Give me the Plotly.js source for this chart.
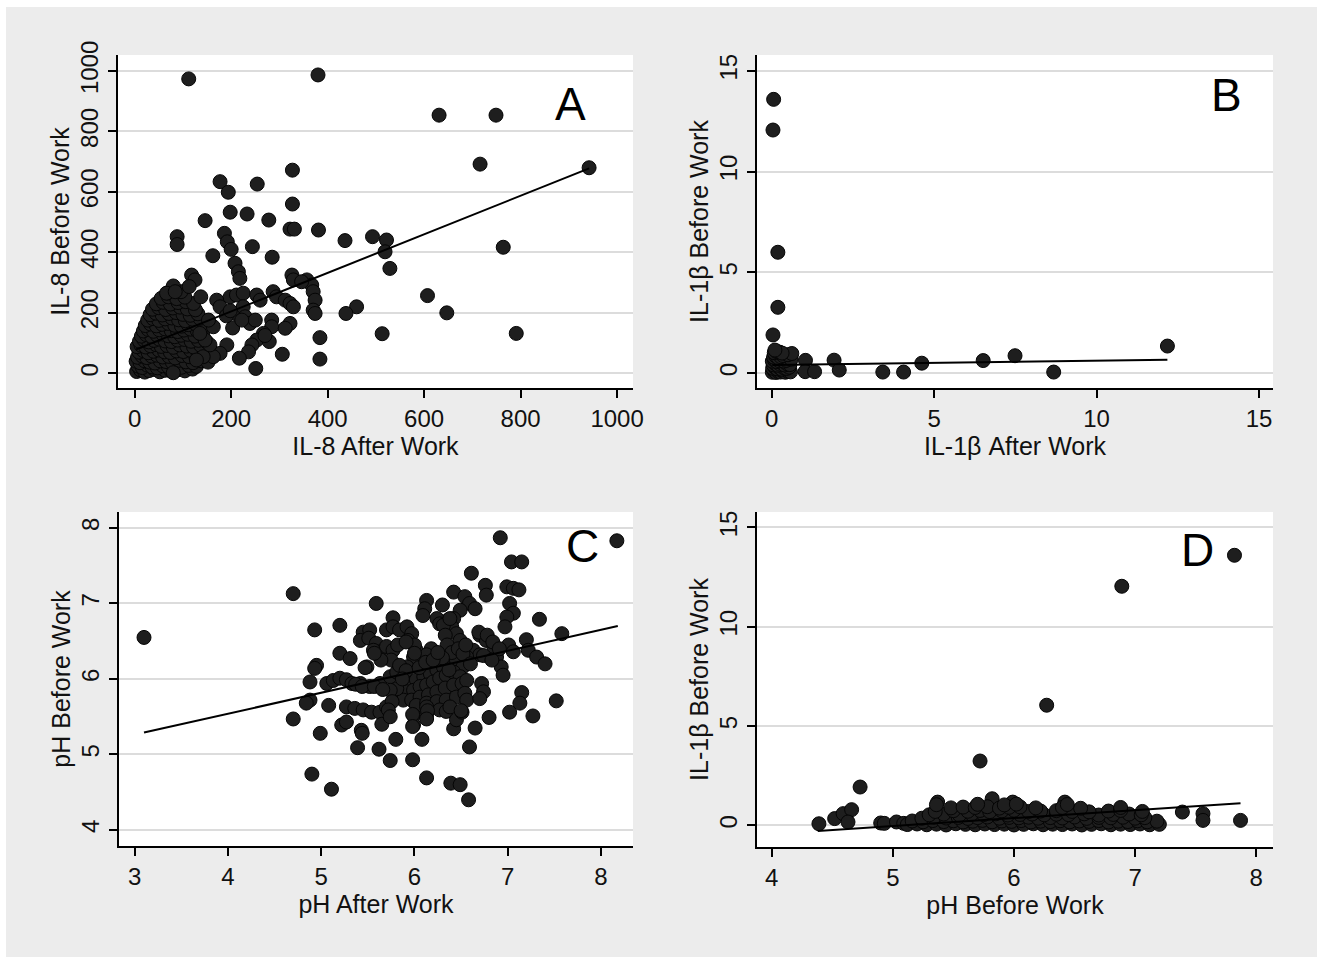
<!DOCTYPE html>
<html>
<head>
<meta charset="utf-8">
<script src="https://cdn.plot.ly/plotly-3.0.1.min.js"></script>
<style>
html,body{margin:0;padding:0;background:#ffffff;width:1317px;height:957px;overflow:hidden;}
#chart{position:absolute;left:6px;top:7px;width:1311px;height:950px;}
</style>
</head>
<body>
<div id="chart"></div>
<script>
// ---------- DATA ----------
// Panel A: IL-8 After Work (x) vs IL-8 Before Work (y)
const aScatter = [[112,974],[380,987],[631,854],[749,854],[716,692],[942,680],[764,417],[791,132],[607,257],[647,200],
[513,131],[522,441],[519,402],[529,347],[493,452],[436,439],[460,220],[438,198],[381,474],[384,118],[384,47],[327,672],
[327,560],[322,477],[331,477],[254,626],[177,634],[194,599],[198,533],[233,527],[278,507],[146,505],[88,452],[88,426],
[186,463],[192,435],[200,410],[244,419],[162,389],[285,384],[208,364],[215,336],[218,314],[118,325],[125,309],[113,287],
[80,289],[137,253],[170,242],[177,220],[198,253],[211,259],[225,265],[208,198],[225,220],[229,187],[239,165],[250,176],
[253,259],[260,242],[287,270],[294,253],[312,242],[322,231],[329,220],[326,325],[329,309],[357,309],[367,292],[370,270],
[374,242],[370,209],[374,198],[346,303],[284,176],[284,154],[267,132],[253,110],[243,94],[236,71],[322,165],[312,149],
[306,63],[251,16],[217,50],[191,94],[177,66],[163,55],[142,55],[128,44],[156,94],[146,110],[135,132],[163,154],[153,176],
[80,2],[66,265],[84,270],[279,105],[270,125],[203,150],[190,190],[222,176],[198,207]];
const aCluster = [[4,6],[12,11],[21,4],[30,9],[41,13],[52,5],[63,10],[76,7],[90,12],[104,8],[120,14],
[7,24],[16,19],[26,27],[36,21],[47,18],[58,25],[70,22],[83,28],[97,20],[112,26],[128,23],
[3,40],[11,35],[20,42],[31,37],[42,34],[53,41],[65,39],[78,36],[92,43],[106,38],[121,35],[138,41],[152,37],
[6,53],[15,58],[25,52],[35,57],[46,60],[58,54],[71,56],[84,51],[98,59],[113,55],[127,52],[143,57],
[9,70],[18,75],[28,68],[39,73],[50,77],[62,71],[74,69],[87,74],[101,72],[116,76],[131,70],[148,73],[163,68],
[5,88],[13,93],[23,87],[33,91],[44,95],[55,89],[67,92],[80,86],[93,94],[108,90],[122,87],[137,92],
[10,106],[19,111],[29,104],[40,109],[51,113],[63,107],[76,105],[89,110],[103,112],[117,106],[132,109],[149,104],
[14,123],[24,128],[35,122],[46,127],[58,130],[70,124],[83,121],[96,126],[110,129],[125,123],[141,127],
[18,140],[28,145],[39,139],[51,144],[63,147],[76,141],[89,138],[102,143],[116,146],[130,140],
[22,158],[33,163],[45,157],[57,162],[70,165],[83,159],[97,156],[111,161],[126,164],[145,158],
[27,176],[38,181],[50,175],[63,180],[77,183],[91,177],[105,174],[120,179],[135,182],
[32,194],[44,199],[57,193],[71,198],[86,201],[100,195],[115,192],[131,197],
[37,212],[50,217],[64,211],[79,216],[94,219],[109,213],[126,210],
[45,230],[59,235],[74,229],[90,234],[106,237],[122,231],
[55,248],[70,253],[87,247],[104,252],[68,266],[96,270]];
const aFitX = [3, 942];
const aFitY = [79, 678];

// Panel B: IL-1β After Work (x) vs IL-1β Before Work (y)
const bScatter = [[0.06,13.58],[0.04,12.06],[0.19,6.0],[0.19,3.27],[0.04,1.9],[1.04,0.64],[1.03,0.08],[1.32,0.08],
[1.92,0.65],[2.08,0.16],[3.42,0.06],[4.06,0.06],[4.62,0.5],[6.51,0.63],[7.49,0.87],[8.68,0.06],[12.18,1.35]];
const bCluster = [[0.02,0.05],[0.08,0.12],[0.14,0.04],[0.2,0.09],[0.27,0.06],[0.34,0.11],[0.42,0.05],[0.5,0.1],[0.58,0.07],
[0.03,0.25],[0.1,0.3],[0.17,0.22],[0.24,0.28],[0.31,0.2],[0.38,0.27],[0.46,0.24],[0.54,0.3],
[0.05,0.42],[0.12,0.47],[0.19,0.4],[0.26,0.45],[0.33,0.5],[0.4,0.41],[0.48,0.46],[0.56,0.43],
[0.02,0.6],[0.09,0.65],[0.16,0.58],[0.23,0.62],[0.3,0.68],[0.37,0.6],[0.45,0.64],[0.6,0.7],
[0.06,0.8],[0.13,0.85],[0.2,0.78],[0.28,0.82],[0.35,0.88],[0.5,0.92],[0.62,0.98],
[0.08,1.02],[0.15,1.08],[0.24,1.05],[0.32,1.0],[0.1,1.15]];
const bFitX = [0.02, 12.18];
const bFitY = [0.41, 0.67];

// Panel C: pH After Work (x) vs pH Before Work (y)
const cPoints = [[3.10,6.55],[4.70,7.13],[4.70,5.47],[6.92,7.87],[8.17,7.83],[7.04,7.55],[7.15,7.55],[6.61,7.40],[6.76,7.24],
[6.77,7.11],[6.99,7.22],[7.06,7.20],[7.12,7.18],[7.02,7.00],[7.06,6.87],[6.99,6.82],[6.97,6.69],[6.42,7.15],[6.54,7.09],
[6.59,7.00],[6.65,6.93],[6.13,7.04],[6.11,6.93],[6.09,6.84],[6.30,6.98],[6.49,6.91],[6.42,6.80],[6.36,6.78],[6.40,6.69],
[6.45,6.60],[6.49,6.51],[6.24,6.80],[6.27,6.73],[5.59,7.00],[5.77,6.81],[5.20,6.71],[4.93,6.65],[7.34,6.79],[7.58,6.60],
[7.20,6.52],[7.22,6.38],[7.31,6.29],[7.40,6.20],[7.01,6.45],[7.06,6.36],[6.88,6.29],[6.93,6.16],[6.95,6.05],[6.70,6.58],
[6.77,6.51],[6.85,6.43],[6.63,6.38],[6.70,6.32],[6.56,6.29],[5.45,6.62],[5.52,6.65],[5.42,6.51],[5.51,6.54],[5.70,6.65],
[5.77,6.69],[5.84,6.65],[5.92,6.69],[5.97,6.60],[5.93,6.51],[5.59,6.47],[5.63,6.36],[5.56,6.38],[5.70,6.43],[5.77,6.38],
[6.02,6.38],[5.99,6.29],[6.18,6.40],[6.13,6.32],[5.20,6.34],[5.31,6.27],[4.95,6.18],[4.93,6.14],[5.49,6.16],[4.88,5.96],
[5.06,5.94],[5.13,5.98],[5.20,6.01],[5.27,5.99],[5.33,5.94],[5.42,5.94],[5.52,5.90],[5.63,5.94],[5.74,6.03],[5.81,6.09],
[5.92,6.16],[5.88,5.90],[5.95,5.94],[6.02,5.99],[6.10,6.03],[6.17,6.07],[6.24,6.12],[6.31,6.16],[6.38,6.21],[6.45,6.25],
[6.52,6.16],[5.84,5.81],[5.92,5.83],[5.99,5.85],[6.06,5.90],[6.13,5.92],[6.20,5.96],[6.27,6.01],[6.34,6.05],[6.42,6.09],
[6.49,6.03],[5.88,5.72],[5.97,5.72],[6.06,5.76],[6.15,5.79],[6.24,5.83],[6.33,5.88],[6.42,5.92],[6.51,5.94],[6.56,5.98],
[6.02,5.65],[6.13,5.68],[6.24,5.70],[6.34,5.72],[6.45,5.76],[6.54,5.81],[6.27,5.59],[6.34,5.57],[6.38,5.63],[5.81,5.87],
[5.74,5.85],[5.27,5.63],[5.36,5.61],[5.45,5.59],[5.54,5.56],[5.63,5.56],[5.70,5.63],[5.76,5.70],[4.88,5.72],[4.84,5.68],
[5.08,5.65],[4.99,5.28],[5.22,5.39],[5.27,5.43],[5.43,5.32],[5.44,5.28],[5.39,5.09],[5.62,5.07],[5.74,4.92],[5.65,5.40],
[5.80,5.20],[5.98,4.93],[6.08,5.20],[5.99,5.52],[5.99,5.39],[6.13,5.52],[6.13,5.63],[4.90,4.74],[5.11,4.54],[6.13,4.69],
[6.39,4.62],[6.49,4.60],[6.58,4.40],[6.59,5.10],[6.65,5.35],[6.42,5.34],[6.45,5.46],[6.51,5.56],[6.56,5.72],[6.72,5.94],
[6.74,5.83],[6.70,5.74],[6.80,5.49],[7.02,5.56],[7.15,5.82],[7.13,5.68],[7.27,5.51],[7.52,5.71],[6.00,6.45],[6.00,6.34],
[5.75,6.25],[5.84,6.18],[5.91,6.11],[5.87,6.00],[5.37,5.93],[5.44,5.90],[5.57,5.90],[5.66,5.86],[5.72,5.59],[5.74,5.50],
[5.64,6.25],[5.57,6.34],[5.47,6.15],[6.69,6.62],[6.78,6.58],[6.84,6.49],[6.91,6.40],[6.74,6.31],[6.83,6.25],[6.50,5.58],
[6.14,5.58],[6.13,5.47],[5.98,5.53],[5.98,5.37],[5.82,6.45],[5.91,6.49],[6.31,6.71],[6.38,6.80],[6.33,6.58],[6.35,6.45],
[6.40,6.35],[6.47,6.40],[6.52,6.33],[6.55,6.45],[6.30,6.28],[6.60,6.20],[6.37,6.12],[6.05,6.15],[6.12,6.22],[6.20,6.25],
[6.25,6.35]];
const cFitX = [3.10, 8.18];
const cFitY = [5.29, 6.70];

// Panel D: pH Before Work (x) vs IL-1β Before Work (y)
const dPoints = [[7.82,13.6],[6.89,12.04],[6.27,6.05],[5.72,3.24],[4.73,1.93],[5.82,1.34],[5.37,1.17],[6.42,1.17],[5.99,1.17],
[7.39,0.67],[7.56,0.59],[7.56,0.25],[7.87,0.25],[4.39,0.08],[4.52,0.34],[4.59,0.59],[4.66,0.79],[4.63,0.17],[4.90,0.12],
[4.93,0.10],[5.03,0.17],[5.09,0.10],
[5.12,0.04],[5.20,0.07],[5.28,0.03],[5.36,0.06],[5.44,0.02],[5.52,0.08],[5.60,0.05],[5.68,0.03],[5.76,0.07],[5.84,0.04],
[5.92,0.06],[6.00,0.02],[6.08,0.05],[6.16,0.08],[6.24,0.03],[6.32,0.06],[6.40,0.04],[6.48,0.07],[6.56,0.02],[6.64,0.05],
[6.72,0.08],[6.80,0.03],[6.88,0.06],[6.96,0.04],[7.04,0.07],[7.12,0.03],[7.20,0.05],
[5.16,0.22],[5.25,0.18],[5.33,0.24],[5.42,0.19],[5.50,0.23],[5.58,0.17],[5.66,0.21],[5.74,0.25],[5.82,0.18],[5.90,0.22],
[5.98,0.2],[6.06,0.24],[6.14,0.17],[6.22,0.21],[6.30,0.19],[6.38,0.23],[6.46,0.18],[6.54,0.22],[6.62,0.2],[6.70,0.24],
[6.78,0.17],[6.86,0.21],[6.94,0.19],[7.02,0.23],[7.10,0.18],[7.18,0.21],
[5.24,0.36],[5.34,0.41],[5.44,0.37],[5.54,0.4],[5.62,0.35],[5.70,0.39],[5.78,0.42],[5.88,0.36],[5.96,0.4],[6.04,0.38],
[6.12,0.41],[6.20,0.36],[6.30,0.39],[6.40,0.37],[6.50,0.42],[6.60,0.35],[6.70,0.4],[6.80,0.38],[6.90,0.41],[7.00,0.36],
[7.08,0.39],
[5.30,0.53],[5.42,0.57],[5.55,0.52],[5.65,0.56],[5.75,0.54],[5.85,0.58],[5.95,0.52],[6.05,0.55],[6.15,0.57],[6.25,0.53],
[6.35,0.56],[6.45,0.54],[6.58,0.58],[6.70,0.52],[6.82,0.55],[6.95,0.57],[7.05,0.53],
[5.35,0.7],[5.50,0.74],[5.62,0.71],[5.72,0.75],[5.80,0.69],[5.90,0.73],[6.00,0.76],[6.12,0.7],[6.22,0.72],[6.35,0.74],
[6.48,0.7],[6.62,0.68],[6.78,0.72],[6.88,0.75],[7.06,0.7],
[5.48,0.88],[5.58,0.92],[5.68,0.9],[5.78,0.94],[5.88,0.87],[5.96,0.91],[6.05,0.93],[6.18,0.88],[6.40,0.9],[6.55,0.86],
[6.88,0.9],[5.36,1.04],[5.70,1.06],[5.92,1.03],[6.02,1.07],[6.44,1.05]];
const dFitX = [4.38, 7.87];
const dFitY = [-0.28, 1.11];

// Tick labels
const aTicks = [0, 200, 400, 600, 800, 1000];
const bTicks = [0, 5, 10, 15];
const cxTicks = [3, 4, 5, 6, 7, 8];
const cyTicks = [4, 5, 6, 7, 8];
const dxTicks = [4, 5, 6, 7, 8];
const dyTicks = [0, 5, 10, 15];
const panelLetters = ['A', 'B', 'C', 'D'];

// ---------- LAYOUT HELPERS (pixel geometry of the reference) ----------
const OX = 6, OY = 7, W = 1311, H = 950;
function domX(l, r) { return [(l - OX) / W, (r - OX) / W]; }
function domY(t, b) { return [1 - (b - OY) / H, 1 - (t - OY) / H]; }
function px(x) { return (x - OX) / W; }
function py(y) { return 1 - (y - OY) / H; }

const FONT = 'Liberation Sans, Arial, Helvetica, sans-serif';
const tickFont = {family: FONT, size: 24, color: '#111'};
const titleFont = {family: FONT, size: 25, color: '#111'};

function xAxis(dom, range, ticks, title, anchor) {
  return {domain: dom, range: range, tickmode: 'array', tickvals: ticks, ticktext: ticks.map(String),
    showline: true, linecolor: '#000', linewidth: 2, ticks: 'outside', ticklen: 8, tickwidth: 2, tickcolor: '#000',
    showgrid: false, zeroline: false, tickfont: tickFont, anchor: anchor, fixedrange: true,
    title: {text: title, font: titleFont, standoff: 0}};
}
function yAxis(dom, range, ticks, title, anchor) {
  return {domain: dom, range: range, tickmode: 'array', tickvals: ticks, ticktext: ticks.map(String),
    showline: true, linecolor: '#000', linewidth: 2, ticks: 'outside', ticklen: 8, tickwidth: 2, tickcolor: '#000',
    showgrid: true, gridcolor: '#dcdcdc', gridwidth: 2, zeroline: false, tickfont: tickFont, tickangle: -90,
    anchor: anchor, fixedrange: true,
    title: {text: title, font: titleFont, standoff: 0}};
}

const markerStyle = {size: 14, color: '#1e1e1e', line: {color: '#050505', width: 1}};
const lineStyle = {color: '#000', width: 2};

function pts(arr, i) { return arr.map(p => p[i]); }

const traces = [
  {x: pts(aCluster, 0).concat(pts(aScatter, 0)), y: pts(aCluster, 1).concat(pts(aScatter, 1)), type: 'scatter', mode: 'markers', marker: markerStyle, xaxis: 'x', yaxis: 'y'},
  {x: aFitX, y: aFitY, type: 'scatter', mode: 'lines', line: lineStyle, xaxis: 'x', yaxis: 'y'},
  {x: pts(bCluster, 0).concat(pts(bScatter, 0)), y: pts(bCluster, 1).concat(pts(bScatter, 1)), type: 'scatter', mode: 'markers', marker: markerStyle, xaxis: 'x2', yaxis: 'y2'},
  {x: bFitX, y: bFitY, type: 'scatter', mode: 'lines', line: lineStyle, xaxis: 'x2', yaxis: 'y2'},
  {x: pts(cPoints, 0), y: pts(cPoints, 1), type: 'scatter', mode: 'markers', marker: markerStyle, xaxis: 'x3', yaxis: 'y3'},
  {x: cFitX, y: cFitY, type: 'scatter', mode: 'lines', line: lineStyle, xaxis: 'x3', yaxis: 'y3'},
  {x: pts(dPoints, 0), y: pts(dPoints, 1), type: 'scatter', mode: 'markers', marker: markerStyle, xaxis: 'x4', yaxis: 'y4'},
  {x: dFitX, y: dFitY, type: 'scatter', mode: 'lines', line: lineStyle, xaxis: 'x4', yaxis: 'y4'}
];

const letterPos = [[570, 104], [1226, 95], [582, 546], [1197, 550]];
const annotations = panelLetters.map((t, i) => ({
  text: t, xref: 'paper', yref: 'paper', x: px(letterPos[i][0]), y: py(letterPos[i][1]),
  xanchor: 'center', yanchor: 'middle', showarrow: false,
  font: {family: FONT, size: 46, color: '#000'}
}));

const layout = {
  width: W, height: H, margin: {l: 0, r: 0, t: 0, b: 0},
  paper_bgcolor: '#ececec', plot_bgcolor: '#ffffff', showlegend: false,
  xaxis:  xAxis(domX(118, 633), [-34.6, 1033], aTicks, 'IL-8 After Work', 'y'),
  yaxis:  yAxis(domY(55, 388), [-48.6, 1053], aTicks, 'IL-8 Before Work', 'x'),
  xaxis2: xAxis(domX(757, 1273), [-0.452, 15.43], bTicks, 'IL-1β After Work', 'y2'),
  yaxis2: yAxis(domY(55, 388), [-0.73, 15.78], bTicks, 'IL-1β Before Work', 'x2'),
  xaxis3: xAxis(domX(119, 633), [2.832, 8.343], cxTicks, 'pH After Work', 'y3'),
  yaxis3: yAxis(domY(512, 846), [3.788, 8.211], cyTicks, 'pH Before Work', 'x3'),
  xaxis4: xAxis(domX(757, 1273), [3.879, 8.138], dxTicks, 'pH Before Work', 'y4'),
  yaxis4: yAxis(domY(512, 847), [-1.09, 15.78], dyTicks, 'IL-1β Before Work', 'x4'),
  annotations: annotations
};

Plotly.newPlot('chart', traces, layout, {displayModeBar: false, staticPlot: true});
</script>
</body>
</html>
